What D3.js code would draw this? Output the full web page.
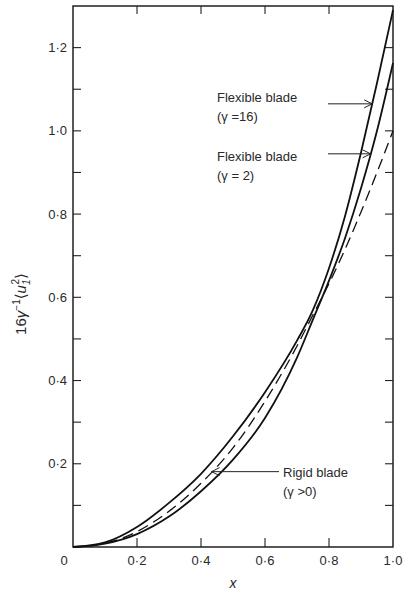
<!DOCTYPE html>
<html>
<head>
<meta charset="utf-8">
<script src="https://cdn.jsdelivr.net/npm/d3@7"></script>
<style>
  html, body { margin: 0; padding: 0; background: #fff; }
  svg { display: block; }
  text { font-family: "Liberation Sans", "DejaVu Sans", sans-serif; fill: #2a2a2a; }
</style>
</head>
<body>
<svg id="chart" width="404" height="594"></svg>
<script>
// values
const xs        = [0, 0.1, 0.2, 0.3, 0.4, 0.5, 0.6, 0.7, 0.75, 0.8, 0.85, 0.9, 0.95, 1.0];
const rigid     = [0, 0.009, 0.037, 0.086, 0.153, 0.238, 0.35, 0.483, 0.558, 0.633, 0.715, 0.805, 0.9, 1.0];
const flex16    = [0, 0.011, 0.048, 0.106, 0.176, 0.266, 0.372, 0.496, 0.57, 0.67, 0.795, 0.948, 1.115, 1.29];
const flex2     = [0, 0.008, 0.031, 0.073, 0.134, 0.21, 0.31, 0.455, 0.547, 0.64, 0.742, 0.862, 1.0, 1.163];

const yMajor = [0.2, 0.4, 0.6, 0.8, 1.0, 1.2];
const yMinor = [0.1, 0.3, 0.5, 0.7, 0.9, 1.1];
const xMajor = [0.2, 0.4, 0.6, 0.8];
const xLabels = [0.2, 0.4, 0.6, 0.8, 1.0];

const fmt = v => d3.format('.1f')(v).replace('.', '\u00b7');

const svg = d3.select('#chart');
const L = 73, R = 393, T = 6, B = 547;

const x = d3.scaleLinear().domain([0, 1]).range([L, R]);
const y = d3.scaleLinear().domain([0, 1.3]).range([B, T]);

// frame
svg.append('rect')
  .attr('x', L).attr('y', T).attr('width', R - L).attr('height', B - T)
  .attr('fill', 'none').attr('stroke', '#111').attr('stroke-width', 1.4);

// ticks: left + right (inward), bottom + top (inward)
const tickG = svg.append('g').attr('stroke', '#222').attr('stroke-width', 1.1);
for (const v of yMajor.concat(yMinor)) {
  const len = 8;
  tickG.append('line').attr('x1', L).attr('x2', L + len).attr('y1', y(v)).attr('y2', y(v));
  tickG.append('line').attr('x1', R).attr('x2', R - len).attr('y1', y(v)).attr('y2', y(v));
}
for (const v of xMajor) {
  tickG.append('line').attr('x1', x(v)).attr('x2', x(v)).attr('y1', B).attr('y2', B - 9);
  tickG.append('line').attr('x1', x(v)).attr('x2', x(v)).attr('y1', T).attr('y2', T + 8);
}

// tick labels
svg.append('g').selectAll('text').data(yMajor).join('text')
  .attr('x', L - 6).attr('y', d => y(d)).attr('dy', '0.35em')
  .attr('text-anchor', 'end').attr('font-size', 13).text(fmt);
svg.append('g').selectAll('text').data(xLabels).join('text')
  .attr('x', d => x(d)).attr('y', 565)
  .attr('text-anchor', 'middle').attr('font-size', 13).text(fmt);
svg.append('text').attr('x', 64).attr('y', 565).attr('text-anchor', 'middle')
  .attr('font-size', 13).text('0');

// axis titles
svg.append('text').attr('x', x(0.5)).attr('y', 588).attr('text-anchor', 'middle')
  .attr('font-size', 14).attr('font-style', 'italic').text('x');

const yt = svg.append('text')
  .attr('transform', 'translate(26,304) rotate(-90)')
  .attr('text-anchor', 'middle').attr('font-size', 15);
yt.append('tspan').text('16');
yt.append('tspan').attr('font-style', 'italic').text('\u03b3');
yt.append('tspan').attr('font-size', 10).attr('dy', -6).text('\u22121');
yt.append('tspan').attr('dy', 6).text('\u27e8');
yt.append('tspan').attr('font-style', 'italic').text('u');
yt.append('tspan').attr('font-size', 10).attr('font-style', 'italic').attr('dy', 4).text('1');
yt.append('tspan').attr('font-size', 10).attr('dx', -5).attr('dy', -11).text('2');
yt.append('tspan').attr('dy', 7).text('\u27e9');

// curves
const line = d3.line().x((d, i) => x(xs[i])).y(d => y(d)).curve(d3.curveMonotoneX);
svg.append('path').datum(rigid).attr('d', line)
  .attr('fill', 'none').attr('stroke', '#111').attr('stroke-width', 1.3)
  .attr('stroke-dasharray', '11,6');
svg.append('path').datum(flex16).attr('d', line)
  .attr('fill', 'none').attr('stroke', '#111').attr('stroke-width', 1.8);
svg.append('path').datum(flex2).attr('d', line)
  .attr('fill', 'none').attr('stroke', '#111').attr('stroke-width', 1.8);

// value of a series at xv (linear between read points) so arrows land on the curve
const at = (series, xv) => {
  const i = Math.max(1, d3.bisectLeft(xs, xv));
  const t = (xv - xs[i - 1]) / (xs[i] - xs[i - 1]);
  return series[i - 1] + t * (series[i] - series[i - 1]);
};

// annotations
const notes = [
  { lines: ['Flexible blade', '(\u03b3 =16)'], tx: 217, ty: 102, series: flex16, tipX: 0.935, from: 328 },
  { lines: ['Flexible blade', '(\u03b3 = 2)'], tx: 217, ty: 161, series: flex2, tipX: 0.93, from: 328 },
  { lines: ['Rigid blade', '(\u03b3 >0)'], tx: 283, ty: 477, series: rigid, tipX: 0.433, from: 279 }
];
for (const n of notes) {
  const t = svg.append('text').attr('x', n.tx).attr('y', n.ty).attr('font-size', 13);
  n.lines.forEach((s, i) => t.append('tspan').attr('x', n.tx).attr('dy', i ? 19 : 0).text(s));
  const px = x(n.tipX), py = y(at(n.series, n.tipX));
  const dir = n.from > px ? 1 : -1;
  svg.append('line').attr('x1', n.from).attr('x2', px).attr('y1', py).attr('y2', py)
    .attr('stroke', '#222').attr('stroke-width', 1);
  svg.append('path')
    .attr('d', `M${px + dir * 8},${py - 4}L${px},${py}L${px + dir * 8},${py + 4}`)
    .attr('fill', 'none').attr('stroke', '#222').attr('stroke-width', 1);
}
</script>
</body>
</html>
